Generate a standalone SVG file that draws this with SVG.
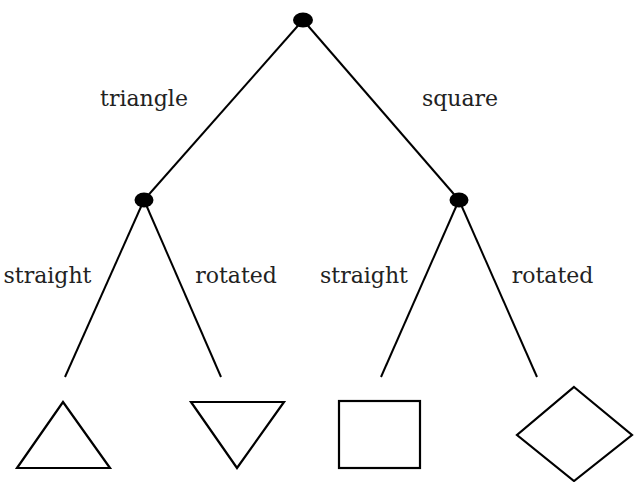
<svg xmlns="http://www.w3.org/2000/svg" width="637" height="482" viewBox="0 0 637 482">
<style>
.lbl{font-family:"DejaVu Serif","Liberation Serif",serif;font-size:22px;fill:#222;text-anchor:middle}
.edge{stroke:#000;stroke-width:2;fill:none}
.shape{stroke:#000;stroke-width:2.2;fill:#fff}
.dot{fill:#000}
</style>
<rect width="637" height="482" fill="#fff"/>
<g id="connectors">
<line class="edge" x1="303" y1="20" x2="144" y2="200"/>
<line class="edge" x1="303" y1="20" x2="459" y2="200"/>
<line class="edge" x1="144" y1="200" x2="65" y2="377"/>
<line class="edge" x1="144" y1="200" x2="221" y2="377"/>
<line class="edge" x1="459" y1="200" x2="381" y2="377"/>
<line class="edge" x1="459" y1="200" x2="537" y2="377"/>
</g>
<g id="labels">
<text class="lbl" x="144" y="106">triangle</text>
<text class="lbl" x="460" y="106">square</text>
<text class="lbl" x="47.5" y="283">straight</text>
<text class="lbl" x="236" y="283">rotated</text>
<text class="lbl" x="364" y="283">straight</text>
<text class="lbl" x="552.5" y="283">rotated</text>
</g>
<g id="root"><ellipse class="dot" cx="303" cy="20" rx="10" ry="7.5"/></g>
<g id="triangle-node"><ellipse class="dot" cx="144" cy="200" rx="9.5" ry="7.5"/></g>
<g id="square-node"><ellipse class="dot" cx="459" cy="200" rx="9.5" ry="7.5"/></g>
<g id="triangle-straight"><polygon class="shape" points="63,402 110,468 17,468"/></g>
<g id="triangle-rotated"><polygon class="shape" points="191,402 284,402 237,468"/></g>
<g id="square-straight"><rect class="shape" x="339" y="401" width="81" height="67"/></g>
<g id="square-rotated"><polygon class="shape" points="574,387 632,435 574,481 517,435"/></g>
</svg>
